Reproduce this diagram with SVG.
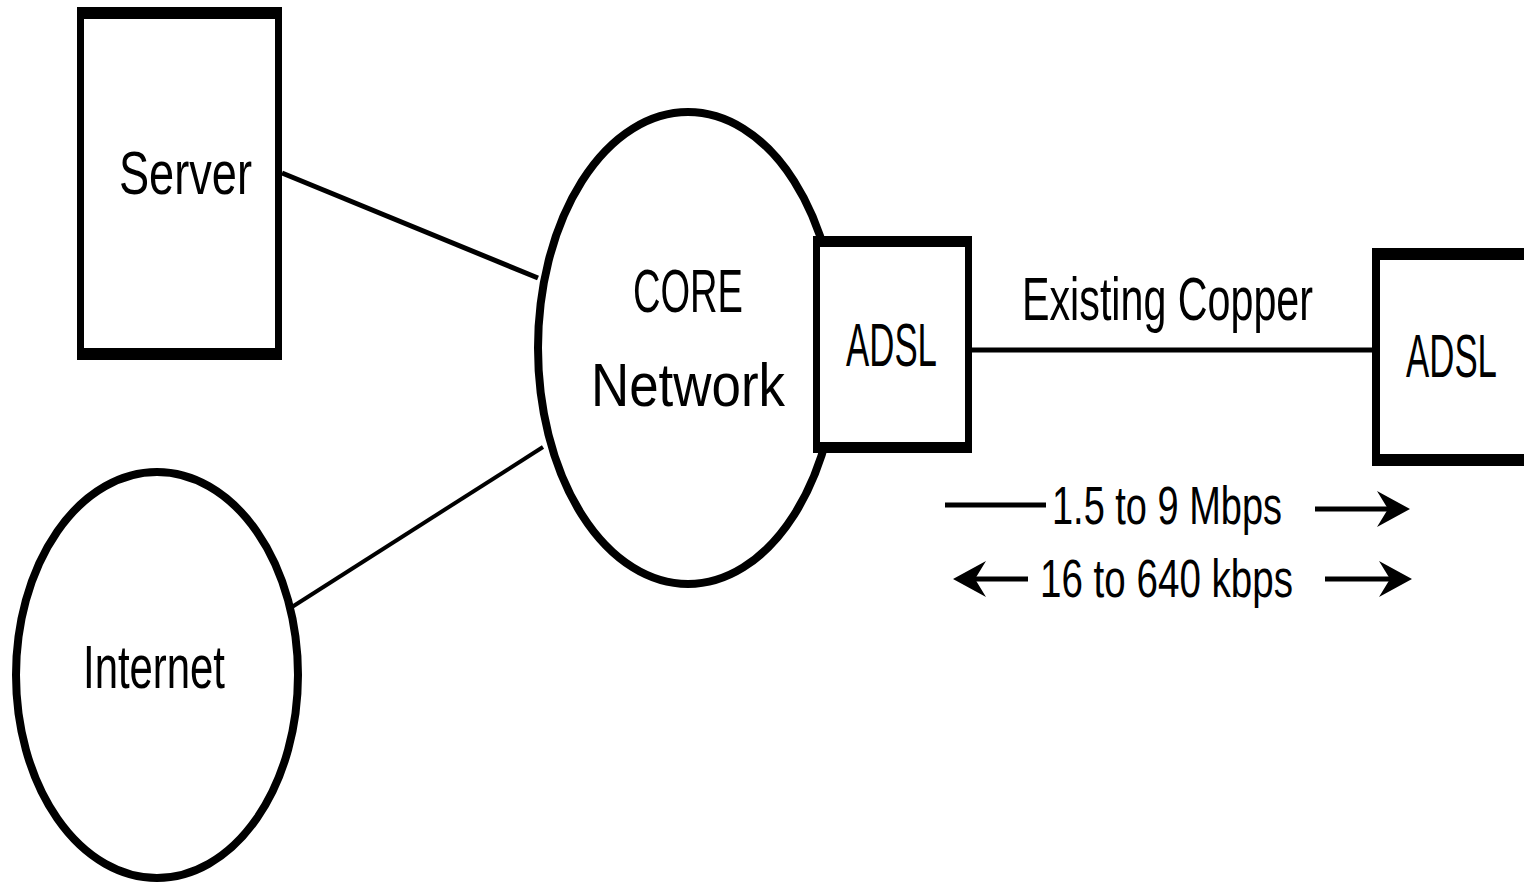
<svg xmlns="http://www.w3.org/2000/svg" xmlns:xlink="http://www.w3.org/1999/xlink" width="1524" height="882" viewBox="0 0 1524 882">
  <style>
    .frame { fill: #000; }
    .inner { fill: #fff; }
    .oval { fill: #fff; stroke: #000; stroke-width: 8; }
    .lbl { font-family: "Liberation Sans", "DejaVu Sans", sans-serif; font-size: 62px; fill: #000; }
    .rate { font-family: "Liberation Sans", "DejaVu Sans", sans-serif; font-size: 54px; fill: #000; }
    .wire { stroke: #000; stroke-width: 5; fill: none; }
    .thin { stroke: #000; stroke-width: 4; fill: none; }
  </style>
  <defs>
    <path id="head" d="M0,0 L-33,-18 L-22,0 L-33,18 Z" fill="#000"/>
  </defs>
  <rect width="1524" height="882" fill="#fff"/>

  <g id="connectors">
    <line class="wire" x1="282" y1="173" x2="538" y2="278"/>
    <line class="thin" x1="292" y1="607" x2="543" y2="447"/>
    <line class="wire" x1="972" y1="350" x2="1372" y2="350"/>
  </g>

  <g id="server">
    <rect class="frame" x="77" y="7" width="205" height="353"/>
    <rect class="inner" x="84" y="19" width="191" height="329"/>
    <text class="lbl" x="119" y="194" textLength="133" lengthAdjust="spacingAndGlyphs">Server</text>
  </g>

  <g id="internet">
    <ellipse class="oval" cx="157" cy="675" rx="141" ry="203"/>
    <text class="lbl" x="83" y="688" textLength="142" lengthAdjust="spacingAndGlyphs">Internet</text>
  </g>

  <g id="core">
    <ellipse class="oval" cx="688" cy="348" rx="150" ry="236"/>
    <text class="lbl" x="633" y="312" textLength="110" lengthAdjust="spacingAndGlyphs">CORE</text>
    <text class="lbl" x="591" y="406" textLength="194" lengthAdjust="spacingAndGlyphs">Network</text>
  </g>

  <g id="adsl-left">
    <rect class="frame" x="813" y="236" width="159" height="217"/>
    <rect class="inner" x="820" y="247" width="145" height="195"/>
    <text class="lbl" x="846" y="366" textLength="91" lengthAdjust="spacingAndGlyphs">ADSL</text>
  </g>

  <g id="adsl-right">
    <rect class="frame" x="1372" y="248" width="160" height="218"/>
    <rect class="inner" x="1380" y="260" width="150" height="194"/>
    <text class="lbl" x="1406" y="377" textLength="91" lengthAdjust="spacingAndGlyphs">ADSL</text>
  </g>

  <g id="copper-label">
    <text class="lbl" x="1022" y="320" textLength="291" lengthAdjust="spacingAndGlyphs">Existing Copper</text>
  </g>

  <g id="rates">
    <line class="wire" x1="945" y1="505" x2="1046" y2="505"/>
    <text class="rate" x="1052" y="524" textLength="230" lengthAdjust="spacingAndGlyphs">1.5 to 9 Mbps</text>
    <line class="wire" x1="1315" y1="509" x2="1395" y2="509"/>
    <use xlink:href="#head" transform="translate(1410,509)"/>

    <line class="wire" x1="968" y1="579" x2="1028" y2="579"/>
    <use xlink:href="#head" transform="translate(953,579) rotate(180)"/>
    <text class="rate" x="1040" y="597" textLength="253" lengthAdjust="spacingAndGlyphs">16 to 640 kbps</text>
    <line class="wire" x1="1325" y1="579" x2="1397" y2="579"/>
    <use xlink:href="#head" transform="translate(1412,579)"/>
  </g>
</svg>
